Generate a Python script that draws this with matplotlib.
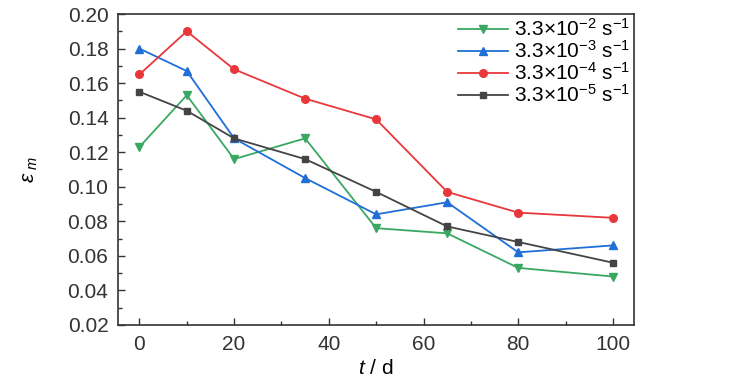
import matplotlib
matplotlib.use("Agg")
import matplotlib.pyplot as plt
from matplotlib.ticker import MultipleLocator

plt.rcParams['font.family'] = ['Liberation Sans', 'DejaVu Sans']
plt.rcParams['mathtext.fontset'] = 'custom'
plt.rcParams['mathtext.rm'] = 'Liberation Sans'
plt.rcParams['mathtext.it'] = 'Liberation Sans:italic'

t = [0, 10, 20, 35, 50, 65, 80, 100]
s2 = [0.123, 0.153, 0.116, 0.128, 0.076, 0.073, 0.053, 0.048]
s3 = [0.180, 0.167, 0.128, 0.105, 0.084, 0.091, 0.062, 0.066]
s4 = [0.165, 0.190, 0.168, 0.151, 0.139, 0.097, 0.085, 0.082]
s5 = [0.155, 0.144, 0.128, 0.116, 0.097, 0.077, 0.068, 0.056]
labels = [r'3.3×10$^{-2}$ s$^{-1}$', r'3.3×10$^{-3}$ s$^{-1}$',
          r'3.3×10$^{-4}$ s$^{-1}$', r'3.3×10$^{-5}$ s$^{-1}$']

fig = plt.figure(figsize=(7.29, 3.90), dpi=100)
ax = fig.add_axes([0.162, 0.167, 0.708, 0.797])

ax.plot(t, s2, color='#3aa862', marker='v', ms=6, lw=1.3, label=labels[0])
ax.plot(t, s3, color='#1f6fd6', marker='^', ms=6, lw=1.3, label=labels[1])
ax.plot(t, s4, color='#e8383b', marker='o', ms=5.5, lw=1.3, label=labels[2])
ax.plot(t, s5, color='#444444', marker='s', ms=5, lw=1.3, label=labels[3])

ax.set_xlim(-4.5, 104.5)
ax.set_ylim(0.02, 0.20)
ax.xaxis.set_major_locator(MultipleLocator(20))
ax.xaxis.set_minor_locator(MultipleLocator(10))
ax.yaxis.set_major_locator(MultipleLocator(0.02))
ax.yaxis.set_minor_locator(MultipleLocator(0.01))
ax.yaxis.set_major_formatter(matplotlib.ticker.FormatStrFormatter('%.2f'))
ax.tick_params(which='major', direction='in', length=5, labelsize=15, width=1,
               colors='#333333', pad=7)
ax.tick_params(which='minor', direction='in', length=3, width=1, colors='#333333')
for sp in ax.spines.values():
    sp.set_color('#333333')
    sp.set_linewidth(1.2)

ax.set_xlabel(r'$t$ / d', fontsize=15, labelpad=4)
ax.set_ylabel(r'$\varepsilon_{\ m}$', fontsize=15, labelpad=20)

ax.legend(loc='upper right', frameon=False, fontsize=15, handlelength=2.4,
          labelspacing=0.0, borderaxespad=0.0, handletextpad=0.3,
          borderpad=0.2)

fig.savefig('out.png', dpi=100)
